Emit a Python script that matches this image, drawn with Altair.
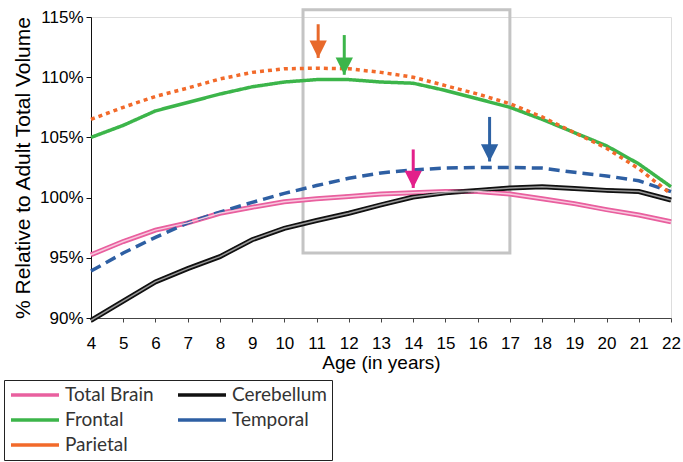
import altair as alt
import pandas as pd

ages = list(range(4, 23))
total_brain = [95.25, 96.35, 97.3, 97.9, 98.7, 99.2, 99.65, 99.9, 100.1, 100.3, 100.4, 100.5, 100.5, 100.3, 99.9, 99.5, 99.0, 98.55, 98.0]
cerebellum = [89.8, 91.4, 93.0, 94.1, 95.1, 96.5, 97.45, 98.1, 98.7, 99.4, 100.05, 100.4, 100.6, 100.8, 100.9, 100.75, 100.6, 100.5, 99.8]
frontal = [105.0, 106.0, 107.2, 107.9, 108.6, 109.2, 109.6, 109.8, 109.8, 109.6, 109.5, 108.9, 108.2, 107.5, 106.5, 105.4, 104.3, 102.8, 100.9]
temporal = [93.9, 95.4, 96.7, 97.9, 98.8, 99.6, 100.35, 101.0, 101.6, 102.05, 102.3, 102.45, 102.5, 102.5, 102.45, 102.1, 101.8, 101.4, 100.5]
parietal = [106.5, 107.5, 108.4, 109.1, 109.85, 110.4, 110.7, 110.75, 110.7, 110.4, 110.0, 109.3, 108.6, 107.8, 106.7, 105.4, 104.1, 102.4, 100.3]

y_ticks = [90, 95, 100, 105, 110, 115]

series_names = ["Total Brain", "Cerebellum", "Frontal", "Temporal", "Parietal"]
series_colors = ["#e9609f", "#111111", "#3cb54a", "#2e5fa3", "#f26a2a"]
series_dash = [[1, 0], [1, 0], [1, 0], [11, 6], [4, 4]]
double_names = ["Total Brain", "Cerebellum"]
outer_colors = ["#e9609f", "#111111"]
inner_colors = ["#f8c8de", "#9a9a9a"]

# highlight box (age range, % range)
box_x = [10.58]
box_x2 = [17.0]
box_y = [115.6]
box_y2 = [95.4]

# arrows
arrow_x = [11.05, 11.86, 14.0, 16.37]
arrow_tail = [114.4, 113.5, 104.0, 106.7]
arrow_tip = [111.6, 110.2, 100.8, 103.0]
arrow_colors = ["#e8692b", "#3cb54a", "#e3208a", "#2d62a4"]

values = {"Total Brain": total_brain, "Cerebellum": cerebellum, "Frontal": frontal,
          "Temporal": temporal, "Parietal": parietal}
rows = []
for name in series_names:
    for a, v in zip(ages, values[name]):
        rows.append({"age": a, "pct": v, "series": name})
df = pd.DataFrame(rows)

arrows = pd.DataFrame({"x": arrow_x, "tail": arrow_tail, "tip": arrow_tip, "c": arrow_colors})
box = pd.DataFrame({"x": box_x, "x2": box_x2, "y": box_y, "y2": box_y2})

xscale = alt.Scale(domain=[4, 22], nice=False, zero=False)
yscale = alt.Scale(domain=[90, 115], nice=False, zero=False)

x_axis = alt.Axis(values=ages, title="Age (in years)", grid=False, tickSize=4, labelPadding=13,
                  domainColor="#444", tickColor="#444", labelFontSize=17, titleFontSize=19,
                  titlePadding=2, labelFlush=False, labelOverlap=False, titleFontWeight="normal")
y_axis = alt.Axis(values=y_ticks, labelExpr="datum.value + '%'",
                  title="% Relative to Adult Total Volume", grid=False, tickSize=5, labelPadding=3,
                  domainColor="#111", tickColor="#111", labelFontSize=17, titleFontSize=21,
                  titlePadding=6, titleFontWeight="normal", labelOverlap=False)


def X(field):
    return alt.X(field, scale=xscale, axis=x_axis)


def Y(field):
    return alt.Y(field, scale=yscale, axis=y_axis)


lines = alt.Chart(df).mark_line(strokeWidth=3.5).encode(
    x=X("age:Q"), y=Y("pct:Q"),
    color=alt.Color("series:N", scale=alt.Scale(domain=series_names, range=series_colors),
                    legend=alt.Legend(orient="none", legendX=-87, legendY=363, columns=2,
                                      direction="horizontal",
                                      symbolType="M-1,0L5,0", symbolSize=256, symbolStrokeWidth=3.5,
                                      labelOffset=36,
                                      labelFont="Lato", labelFontSize=19, labelColor="#333",
                                      strokeColor="#222", padding=5, columnPadding=17,
                                      rowPadding=5, labelLimit=200, title=None)),
    strokeDash=alt.StrokeDash("series:N", scale=alt.Scale(domain=series_names, range=series_dash),
                              legend=None),
)

outer = alt.Chart(df).transform_filter(
    alt.FieldOneOfPredicate(field="series", oneOf=double_names)
).mark_line(strokeWidth=5).encode(
    x=X("age:Q"), y=Y("pct:Q"),
    color=alt.Color("series:N", scale=alt.Scale(domain=double_names, range=outer_colors), legend=None),
)

inner = alt.Chart(df).transform_filter(
    alt.FieldOneOfPredicate(field="series", oneOf=double_names)
).mark_line(strokeWidth=1.5).encode(
    x=X("age:Q"), y=Y("pct:Q"),
    color=alt.Color("series:N", scale=alt.Scale(domain=double_names, range=inner_colors), legend=None),
)

rect = alt.Chart(box).mark_rect(fill=None, stroke="#c4c4c4", strokeWidth=3).encode(
    x=X("x:Q"), x2="x2:Q", y=Y("y:Q"), y2="y2:Q",
)

shafts = alt.Chart(arrows).mark_rule(strokeWidth=3).encode(
    x=X("x:Q"), y=Y("tail:Q"), y2="tip:Q",
    color=alt.Color("c:N", scale=None, legend=None),
)
heads = alt.Chart(arrows).mark_point(shape="M-1,-2L1,-2L0,0Z", size=300, filled=True, opacity=1).encode(
    x=X("x:Q"), y=Y("tip:Q"),
    color=alt.Color("c:N", scale=None, legend=None),
)

chart = alt.layer(rect, outer, lines, inner, shafts, heads).resolve_scale(color="independent").properties(
    width=580, height=301,
    padding={"left": 91, "top": 17, "right": 12, "bottom": 144},
    autosize=alt.AutoSizeParams(type="none"),
).configure_view(stroke=None).configure_axis(
    labelFont="Liberation Sans", titleFont="Liberation Sans", labelColor="#333", titleColor="#333"
).configure(background="white")

chart.save("out.html", embed_options={"renderer": "svg", "actions": False})
